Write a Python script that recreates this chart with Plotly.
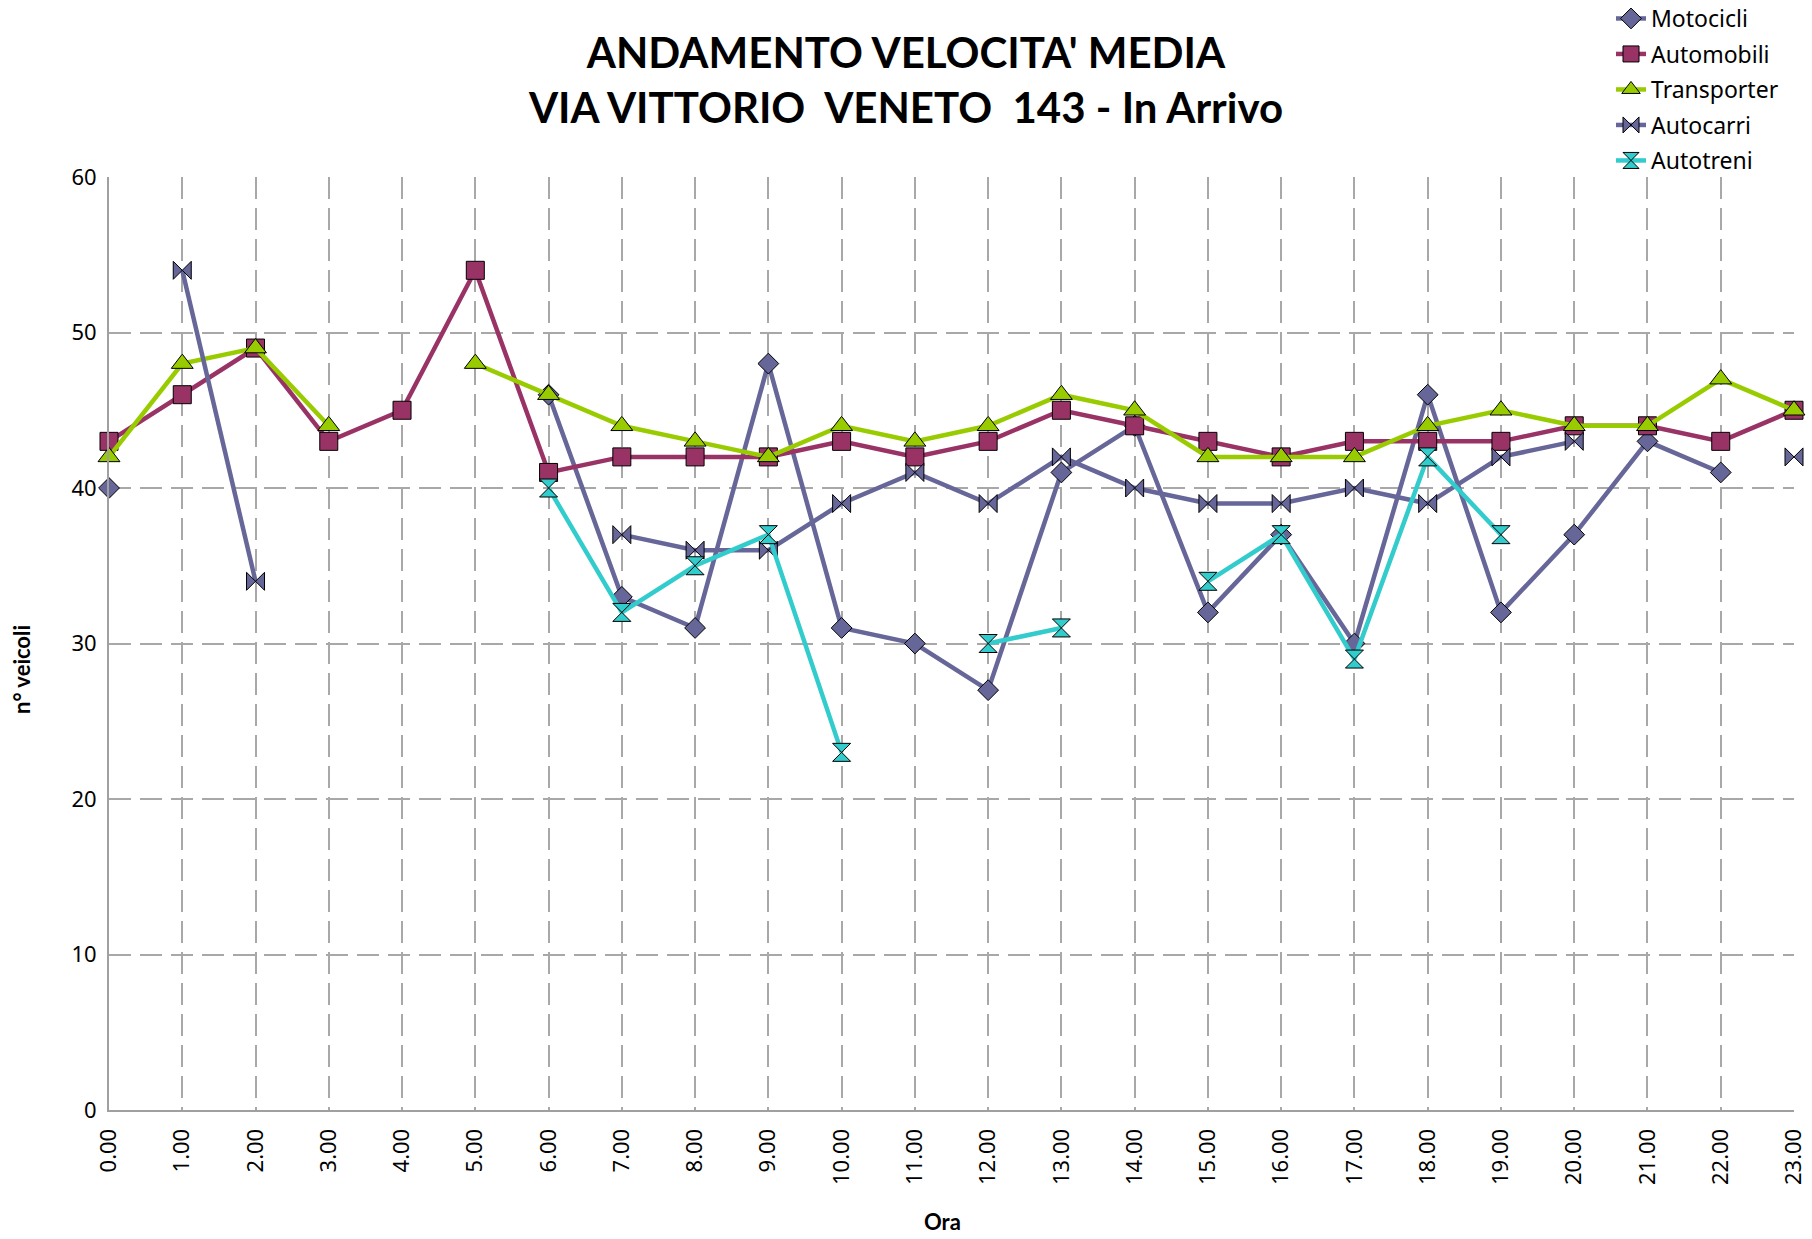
import plotly.graph_objects as go

hours = list(range(24))
hour_labels = [f"{h}.00" for h in hours]

motocicli = [40, None, None, None, None, None, 46, 33, 31, 48, 31, 30, 27, 41, 44, 32, 37, 30, 46, 32, 37, 43, 41, None]
automobili = [43, 46, 49, 43, 45, 54, 41, 42, 42, 42, 43, 42, 43, 45, 44, 43, 42, 43, 43, 43, 44, 44, 43, 45]
transporter = [42, 48, 49, 44, None, 48, 46, 44, 43, 42, 44, 43, 44, 46, 45, 42, 42, 42, 44, 45, 44, 44, 47, 45]
autocarri = [None, 54, 34, None, None, None, None, 37, 36, 36, 39, 41, 39, 42, 40, 39, 39, 40, 39, 42, 43, None, None, 42]
autotreni = [None, None, None, None, None, None, 40, 32, 35, 37, 23, None, 30, 31, None, 34, 37, 29, 42, 37, None, None, None, None]

y_ticks = [0, 10, 20, 30, 40, 50, 60]

series = [
    ("Motocicli", motocicli, "#666699", "diamond", 16),
    ("Automobili", automobili, "#993366", "square", 18),
    ("Transporter", transporter, "#99CC00", "triangle-up", 19),
    ("Autocarri", autocarri, "#666699", "bowtie", 18),
    ("Autotreni", autotreni, "#33CCCC", "hourglass", 18),
]

W, H = 1812, 1239
L, R, T, B = 109, 18, 177, 129
PW, PH = W - L - R, H - T - B

fig = go.Figure()
for name, vals, color, sym, size in series:
    fig.add_trace(go.Scatter(
        x=hours, y=vals, name=name, mode="lines+markers",
        line=dict(color=color, width=4.5),
        marker=dict(symbol=sym, size=size, color=color, line=dict(color="black", width=1)),
        connectgaps=False, cliponaxis=False, legendgroup=name,
    ))

grid_col = "#A8A8A8"
fig.update_layout(
    width=W, height=H,
    paper_bgcolor="white", plot_bgcolor="white",
    margin=dict(l=L, r=R, t=T, b=B, autoexpand=False),
    title=dict(
        text="ANDAMENTO VELOCITA' MEDIA<br>VIA VITTORIO  VENETO  143 - In Arrivo",
        font=dict(family="Lato", size=42, color="black", weight=700),
        x=0.5, xref="container", xanchor="center",
        y=1 - 68 / H, yref="container", yanchor="middle",
    ),
    legend=dict(
        x=1611 / W, y=(H - B + 3) / PH, xref="container", yref="paper",
        xanchor="left", yanchor="top",
        font=dict(family="Noto Sans", size=23, color="black"),
        bgcolor="rgba(0,0,0,0)", tracegroupgap=2.6, itemwidth=30,
    ),
    showlegend=True,
    xaxis=dict(
        range=[0, 23], tickmode="array", tickvals=hours, ticktext=hour_labels,
        tickangle=-90, tickfont=dict(family="Noto Sans", size=22, color="black"),
        showgrid=True, gridcolor=grid_col, gridwidth=1.5, griddash="22px,9px",
        showline=True, linecolor="#A0A0A0", linewidth=2,
        zeroline=False, ticks="", ticklabelstandoff=8,
    ),
    yaxis=dict(
        range=[0, 60], tickmode="array", tickvals=y_ticks,
        tickfont=dict(family="Noto Sans", size=22, color="black"),
        showgrid=True, gridcolor=grid_col, gridwidth=1.5, griddash="22px,9px",
        showline=True, linecolor="#A0A0A0", linewidth=2,
        zeroline=False, ticks="", ticklabelstandoff=6,
    ),
    annotations=[
        dict(text="n° veicoli", textangle=-90, xref="paper", yref="paper",
             x=(21 - L) / PW, y=(H - B - 670) / PH, showarrow=False,
             xanchor="center", yanchor="middle",
             font=dict(family="Lato", size=22, color="black", weight=700)),
        dict(text="Ora", xref="paper", yref="paper",
             x=(942 - L) / PW, y=(H - B - 1221) / PH, showarrow=False,
             xanchor="center", yanchor="middle",
             font=dict(family="Lato", size=22, color="black", weight=700)),
    ],
)

fig.write_html("out.html", config={"displayModeBar": False},
               post_script="document.body.style.margin='0';")
